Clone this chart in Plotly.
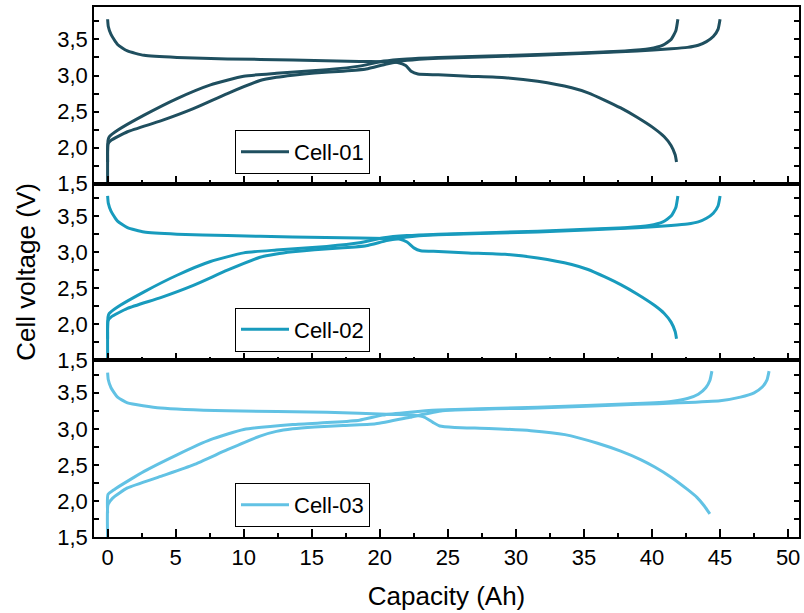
import plotly.graph_objects as go
from plotly.subplots import make_subplots

# ---------------- data (capacity in Ah, voltage in V) ----------------
cell_names = ["Cell-01", "Cell-02", "Cell-03"]
cell_colors = ["#1f4f5f", "#189bbd", "#62c2e4"]

# Cell-01
c1_dis_x = [0, 0.05, 0.25, 0.73, 1.46, 2.68, 5.1, 8.8, 13.6, 18.5, 20.5, 21.3, 21.9, 22.3, 22.8, 24.3, 26.5, 29.2, 31.6, 34.1, 35.3, 36.5, 37.7, 38.9, 40.2, 40.9, 41.4, 41.7, 41.8]
c1_dis_v = [3.78, 3.68, 3.57, 3.43, 3.34, 3.28, 3.25, 3.23, 3.216, 3.195, 3.19, 3.18, 3.14, 3.06, 3.02, 3.01, 2.99, 2.97, 2.92, 2.83, 2.76, 2.66, 2.55, 2.42, 2.26, 2.15, 2.03, 1.90, 1.80]
c1_chA_x = [0, 0.03, 0.12, 0.73, 2.68, 5.1, 7.56, 10.0, 12.4, 16.1, 18.5, 20.3, 22.0, 24.3, 31.6, 38.0, 39.8, 40.8, 41.4, 41.75, 41.9]
c1_chA_v = [1.5, 2.1, 2.15, 2.24, 2.45, 2.68, 2.87, 2.99, 3.03, 3.08, 3.13, 3.2, 3.23, 3.25, 3.29, 3.34, 3.37, 3.42, 3.5, 3.62, 3.78]
c1_chB_x = [0, 0.03, 0.25, 1.46, 3.9, 6.3, 8.8, 11.2, 12.4, 13.6, 15.2, 17.3, 19.0, 20.5, 22.0, 24.3, 31.6, 38.9, 41.4, 42.6, 43.4, 44.0, 44.5, 44.85, 45.0]
c1_chB_v = [1.8, 2.05, 2.1, 2.22, 2.37, 2.54, 2.75, 2.93, 2.975, 3.005, 3.035, 3.06, 3.09, 3.16, 3.21, 3.24, 3.28, 3.34, 3.37, 3.39, 3.42, 3.47, 3.54, 3.64, 3.78]

# Cell-02
c2_dis_x = [0, 0.05, 0.25, 0.73, 1.46, 2.68, 5.1, 8.8, 13.6, 18.5, 20.5, 21.5, 22.0, 22.5, 23.0, 24.3, 26.5, 29.2, 31.6, 34.1, 35.3, 36.5, 37.7, 38.9, 40.2, 40.9, 41.4, 41.7, 41.8]
c2_dis_v = [3.78, 3.68, 3.57, 3.43, 3.34, 3.28, 3.25, 3.23, 3.21, 3.195, 3.19, 3.18, 3.14, 3.06, 3.02, 3.01, 2.99, 2.97, 2.92, 2.83, 2.76, 2.66, 2.55, 2.42, 2.26, 2.15, 2.03, 1.90, 1.80]
c2_chA_x = [0, 0.03, 0.12, 0.73, 2.68, 5.1, 7.56, 10.0, 12.4, 16.1, 18.5, 20.3, 22.0, 24.3, 31.6, 38.0, 39.8, 40.8, 41.4, 41.75, 41.9]
c2_chA_v = [1.5, 2.1, 2.15, 2.24, 2.45, 2.68, 2.87, 2.99, 3.03, 3.08, 3.13, 3.2, 3.23, 3.25, 3.29, 3.34, 3.37, 3.42, 3.5, 3.62, 3.78]
c2_chB_x = [0, 0.03, 0.25, 1.46, 3.9, 6.3, 8.8, 11.2, 12.4, 13.6, 15.2, 17.3, 19.0, 20.5, 22.0, 24.3, 31.6, 38.9, 41.4, 42.6, 43.4, 44.0, 44.5, 44.85, 45.0]
c2_chB_v = [1.8, 2.05, 2.1, 2.22, 2.37, 2.54, 2.75, 2.93, 2.975, 3.005, 3.035, 3.06, 3.09, 3.16, 3.21, 3.24, 3.28, 3.34, 3.37, 3.39, 3.42, 3.47, 3.54, 3.64, 3.78]

# Cell-03
c3_dis_x = [0, 0.05, 0.25, 0.73, 1.46, 3.9, 8.8, 16.1, 21.0, 22.5, 23.3, 23.9, 24.4, 25.5, 28.0, 31.1, 33.6, 36.0, 37.7, 39.2, 40.2, 41.4, 42.6, 43.3, 43.8, 44.25]
c3_dis_v = [3.78, 3.68, 3.57, 3.44, 3.36, 3.29, 3.25, 3.23, 3.2, 3.19, 3.16, 3.09, 3.04, 3.02, 3.005, 2.975, 2.92, 2.80, 2.69, 2.57, 2.47, 2.33, 2.16, 2.05, 1.94, 1.82]
c3_chA_x = [0, 0.03, 0.5, 2.68, 5.1, 7.56, 10.0, 13.6, 16.5, 18.5, 20.2, 22.2, 24.3, 31.6, 38.9, 41.4, 42.6, 43.4, 43.95, 44.25, 44.4]
c3_chA_v = [1.83, 2.09, 2.16, 2.41, 2.64, 2.85, 2.99, 3.06, 3.09, 3.12, 3.19, 3.23, 3.26, 3.3, 3.35, 3.38, 3.42, 3.48, 3.57, 3.67, 3.8]
c3_chB_x = [0, 0.03, 0.37, 1.46, 3.9, 6.3, 8.8, 11.2, 12.4, 13.6, 15.2, 17.3, 19.7, 22.2, 24.6, 31.6, 38.9, 42.0, 45.0, 46.5, 47.5, 48.1, 48.45, 48.6]
c3_chB_v = [1.5, 1.95, 2.04, 2.18, 2.34, 2.5, 2.71, 2.9, 2.965, 3.0, 3.025, 3.045, 3.07, 3.16, 3.25, 3.29, 3.34, 3.36, 3.39, 3.44, 3.5, 3.58, 3.68, 3.8]

y_ticks = [1.5, 2.0, 2.5, 3.0, 3.5]
x_ticks = [0, 5, 10, 15, 20, 25, 30, 35, 40, 45, 50]

cells = [
    [(c1_dis_x, c1_dis_v), (c1_chA_x, c1_chA_v), (c1_chB_x, c1_chB_v)],
    [(c2_dis_x, c2_dis_v), (c2_chA_x, c2_chA_v), (c2_chB_x, c2_chB_v)],
    [(c3_dis_x, c3_dis_v), (c3_chA_x, c3_chA_v), (c3_chB_x, c3_chB_v)],
]

# ---------------- figure ----------------
FONT = "Liberation Sans, Arial, sans-serif"
fig = make_subplots(rows=3, cols=1, shared_xaxes=True, vertical_spacing=0)

legend_ids = ["legend", "legend2", "legend3"]
for i, curves in enumerate(cells):
    for j, (xs, vs) in enumerate(curves):
        fig.add_trace(
            go.Scatter(
                x=xs, y=vs, mode="lines",
                line=dict(color=cell_colors[i], width=3, shape="spline", smoothing=0.5),
                name=cell_names[i], legendgroup=cell_names[i],
                showlegend=(j == 0), legend=legend_ids[i],
            ),
            row=i + 1, col=1,
        )

for r in range(1, 4):
    fig.update_xaxes(
        row=r, col=1, range=[-1, 50.8], tickvals=x_ticks,
        ticks="inside", ticklen=8, tickwidth=1.5, tickcolor="black",
        minor=dict(dtick=2.5, tick0=0, ticks="inside", ticklen=4, tickwidth=1.5, tickcolor="black"),
        showline=True, linecolor="black", linewidth=1.6, mirror=True,
        showgrid=False, zeroline=False,
        showticklabels=(r == 3),
        tickfont=dict(family=FONT, size=22, color="black"),
    )
    fig.update_yaxes(
        row=r, col=1, range=[1.5, 3.95], tickvals=y_ticks, tickformat=".1f",
        ticks="inside", ticklen=5, tickwidth=1.5, tickcolor="black",
        minor=dict(dtick=0.25, tick0=1.5, ticks="inside", ticklen=5, tickwidth=1.5, tickcolor="black"),
        showline=True, linecolor="black", linewidth=1.6, mirror="ticks",
        showgrid=False, zeroline=False,
        tickfont=dict(family=FONT, size=22, color="black"),
    )

fig.update_xaxes(row=3, col=1, title=dict(text="Capacity (Ah)", font=dict(family=FONT, size=26, color="black"), standoff=18))
fig.update_yaxes(row=2, col=1, title=dict(text="Cell voltage (V)", font=dict(family=FONT, size=26, color="black"), standoff=14))

leg_common = dict(
    bgcolor="white", bordercolor="black", borderwidth=1,
    font=dict(family=FONT, size=22, color="black"),
    xanchor="left", yanchor="top", itemwidth=48,
)
fig.update_layout(
    width=804, height=613,
    margin=dict(l=94, r=3, t=7, b=76),
    paper_bgcolor="white", plot_bgcolor="white",
    separators=",.",
    font=dict(family=FONT, color="black"),
    legend=dict(x=0.2, y=0.768, **leg_common),
    legend2=dict(x=0.2, y=0.433, **leg_common),
    legend3=dict(x=0.2, y=0.102, **leg_common),
)

fig.write_html("out.html")
